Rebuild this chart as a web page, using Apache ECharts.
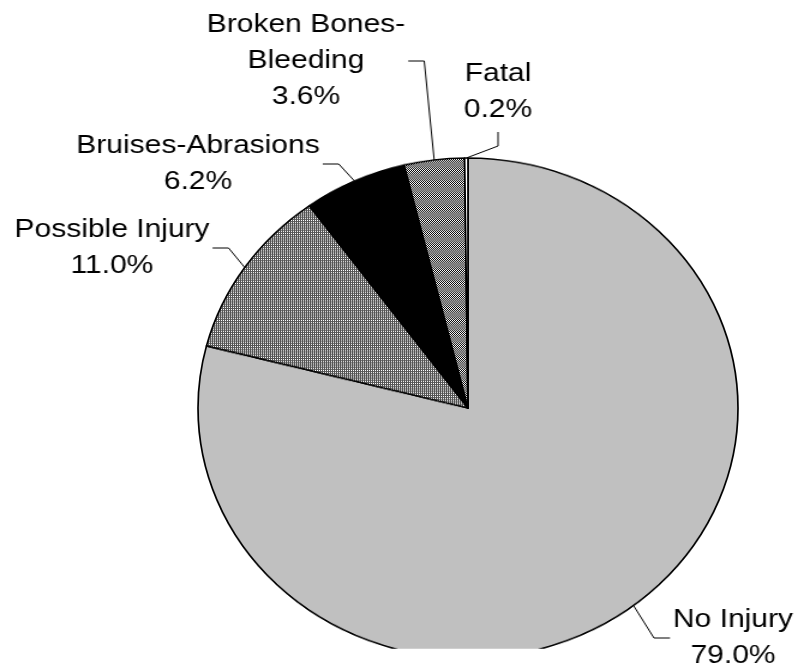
<!DOCTYPE html>
<html>
<head>
<meta charset="utf-8">
<script src="https://cdn.jsdelivr.net/npm/echarts@6/dist/echarts.min.js"></script>
<style>
  html, body { margin: 0; padding: 0; background: #fff; width: 796px; height: 668px; overflow: hidden; }
  #pie { position: absolute; left: 0; top: 0; width: 796px; height: 668px; }
  #labels { position: absolute; left: 0; top: 0; height: 668px; transform-origin: 0 0; }
</style>
</head>
<body>
<div id="pie"></div>
<div id="labels"></div>
<script>
// Injury severity shares (percent of all cases)
const categories = ['No Injury', 'Possible Injury', 'Bruises-Abrasions', 'Broken Bones-\nBleeding', 'Fatal'];
const shares = [79.0, 11.0, 6.2, 3.6, 0.2];

// Layout: ellipse centre and radii, horizontal text stretch, label block centres
const CX = 468, CY = 408, RX = 270, RY = 250;
const SX = 1.2;
const labelCentres = [[733, 638], [112, 248], [198, 164], [306, 61], [498, 92]];

// Fill patterns
function tile(pixels) {
  const c = document.createElement('canvas');
  c.width = 2; c.height = 2;
  const g = c.getContext('2d');
  pixels.forEach((col, k) => { g.fillStyle = col; g.fillRect(k % 2, Math.floor(k / 2), 1, 1); });
  return { image: c, repeat: 'repeat' };
}
const gridFill = tile(['#555555', '#555555', '#555555', '#ffffff']);
const checkFill = tile(['#000000', '#ffffff', '#ffffff', '#000000']);
const fills = ['#c0c0c0', gridFill, '#000000', checkFill, '#ffffff'];

const seriesData = categories.map((name, i) => ({ name, value: shares[i] }));

// Slices: a circle of radius RX squeezed vertically into the ellipse
const pieEl = document.getElementById('pie');
pieEl.style.transformOrigin = CX + 'px ' + CY + 'px';
pieEl.style.transform = 'scaleY(' + (RY / RX) + ')';
const pieChart = echarts.init(pieEl, null, { renderer: 'canvas' });
pieChart.setOption({
  animation: false,
  series: [{
    type: 'pie',
    center: [CX, CY],
    radius: RX,
    startAngle: 90,
    clockwise: true,
    silent: true,
    label: { show: false },
    labelLine: { show: false },
    data: seriesData.map((d, i) => ({
      name: d.name, value: d.value,
      itemStyle: { color: fills[i], borderColor: '#000', borderWidth: 1.7 }
    }))
  }]
});

// Labels and leader lines, on a layer stretched horizontally by SX
const labEl = document.getElementById('labels');
labEl.style.width = (796 / SX) + 'px';
labEl.style.transform = 'scaleX(' + SX + ')';
const labChart = echarts.init(labEl, null, { renderer: 'canvas' });

const total = shares.reduce((a, b) => a + b, 0);
function midAngle(i) {
  let before = 0;
  for (let k = 0; k < i; k++) before += shares[k];
  const frac = (before + shares[i] / 2) / total;
  return Math.PI / 2 - frac * 2 * Math.PI;
}

labChart.setOption({
  animation: false,
  series: [{
    type: 'pie',
    center: [CX / SX, CY],
    radius: 90,
    startAngle: 90,
    clockwise: true,
    silent: true,
    avoidLabelOverlap: false,
    itemStyle: { color: 'rgba(0,0,0,0)', borderWidth: 0 },
    label: {
      show: true,
      position: 'outside',
      fontFamily: 'Liberation Sans, Arial, sans-serif',
      fontSize: 25,
      lineHeight: 36,
      color: '#000',
      formatter: p => p.name + '\n' + p.value.toFixed(1) + '%'
    },
    labelLine: { show: true, smooth: false, lineStyle: { color: '#000', width: 1 } },
    labelLayout: function (params) {
      const i = params.dataIndex;
      const a = midAngle(i);
      const ex = CX + RX * Math.cos(a), ey = CY - RY * Math.sin(a);
      const [X, Y] = labelCentres[i];
      const w = params.labelRect.width * SX, h = params.labelRect.height;
      let end, bend;
      if (ex > X + w / 2) {
        end = [X + w / 2 + 3, Y]; bend = [end[0] + 16, Y];
      } else if (ex < X - w / 2) {
        end = [X - w / 2 - 3, Y]; bend = [end[0] - 16, Y];
      } else {
        end = [X, Y + h / 2 + 4]; bend = [X, end[1] + 14];
      }
      return {
        x: X / SX, y: Y, align: 'center', verticalAlign: 'middle',
        labelLinePoints: [[ex / SX, ey], [bend[0] / SX, bend[1]], [end[0] / SX, end[1]]]
      };
    },
    data: seriesData
  }]
});
</script>
</body>
</html>
